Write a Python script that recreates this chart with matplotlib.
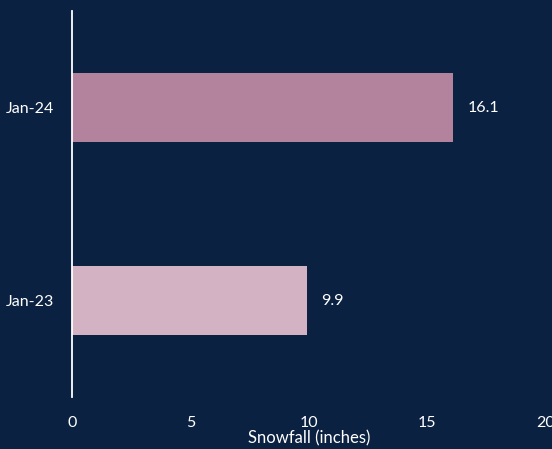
import matplotlib
matplotlib.use("Agg")
import matplotlib.pyplot as plt

months = ["Jan-23", "Jan-24"]
snowfall = [9.9, 16.1]
bar_colors = ["#d3b3c3", "#b3829c"]
x_ticks = [0, 5, 10, 15, 20]

BG = "#0b2141"
TXT = "#ffffff"

plt.rcParams["font.family"] = ["Lato", "DejaVu Sans"]

fig = plt.figure(figsize=(5.52, 4.49), dpi=100, facecolor=BG)
ax = fig.add_axes([0.1313, 0.1158, 0.857, 0.8597], facecolor=BG)

y = list(range(len(months)))
ax.barh(y, snowfall, height=0.36, color=bar_colors)
for yi, v in zip(y, snowfall):
    ax.text(v + 0.62, yi, f"{v:.1f}", va="center", ha="left", color=TXT, fontsize=11.5)

ax.set_xlim(0, 20)
ax.set_ylim(-0.5, 1.5)
ax.set_yticks(y)
ax.set_yticklabels(months)
ax.set_xticks(x_ticks)

ax.tick_params(axis="both", length=0, colors=TXT, labelsize=11.5)
ax.tick_params(axis="x", pad=13.5)
ax.tick_params(axis="y", pad=13)
ax.set_xlabel("Snowfall (inches)", color=TXT, fontsize=12, labelpad=0.5)

for s in ["top", "right", "bottom"]:
    ax.spines[s].set_visible(False)
ax.spines["left"].set_color(TXT)
ax.spines["left"].set_linewidth(1.3)

fig.savefig("out.png", dpi=100, facecolor=BG)
